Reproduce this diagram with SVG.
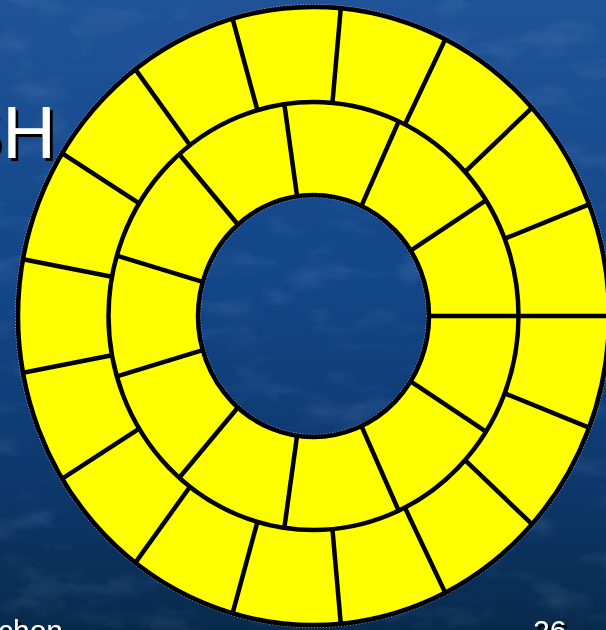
<svg xmlns="http://www.w3.org/2000/svg" width="606" height="630" viewBox="0 0 606 630">
  <defs>
    <linearGradient id="bg" x1="0" y1="0" x2="0" y2="1">
      <stop offset="0" stop-color="#1f5297"/>
      <stop offset="0.45" stop-color="#134688"/>
      <stop offset="0.8" stop-color="#0c3668"/>
      <stop offset="1" stop-color="#082a4c"/>
    </linearGradient>
    <filter id="tex" x="0" y="0" width="100%" height="100%">
      <feTurbulence type="fractalNoise" baseFrequency="0.015 0.035" numOctaves="4" seed="7" result="n"/>
      <feColorMatrix in="n" type="matrix" values="0 0 0 0 0.5  0 0 0 0 0.65  0 0 0 0 1  0 0 0 1.4 -0.7"/>
    </filter>
    <filter id="shadow" x="-20%" y="-20%" width="140%" height="140%">
      <feDropShadow dx="3" dy="3" stdDeviation="0.3" flood-color="#000000" flood-opacity="1"/>
    </filter>
    <style>
      .ring { fill: #ffff00; stroke: #000000; stroke-width: 4.5; fill-rule: evenodd; }
      .line { fill: none; stroke: #000000; stroke-width: 4.5; }
      .edge { fill: none; stroke: #dfe8f5; stroke-width: 1; stroke-dasharray: 1 2; opacity: 0.8; }
      .title { font-family: "Liberation Sans", Arial, sans-serif; fill: #ffffff; }
    </style>
  </defs>

  <g id="background">
    <rect x="0" y="0" width="606" height="630" fill="url(#bg)"/>
    <rect x="0" y="0" width="606" height="630" filter="url(#tex)" opacity="0.22"/>
  </g>

  <g id="title">
    <text class="title" x="-47" y="158" font-size="74" filter="url(#shadow)">SH</text>
  </g>

  <g id="footer">
    <text class="title" x="-2" y="641" font-size="30" filter="url(#shadow)">chon</text>
    <text class="title" x="533" y="641" font-size="30" filter="url(#shadow)">26</text>
  </g>

  <g id="annulus">
    <ellipse class="edge" cx="313.5" cy="316" rx="298" ry="311.5"/>
    <ellipse class="edge" cx="313.5" cy="316" rx="113" ry="118.5"/>
    <path class="ring" d="M 609 316 A 295.5 309 0 1 0 18 316 A 295.5 309 0 1 0 609 316 Z M 429 316 A 115.5 121 0 1 0 198 316 A 115.5 121 0 1 0 429 316 Z"/>
    <ellipse id="middle-circle" class="line" cx="313.5" cy="316" rx="205" ry="214"/>
  </g>

  <g id="connectors">
    <g id="outer-spokes">
      <line class="line" x1="518.5" y1="316" x2="609" y2="316"/>
      <line class="line" x1="504.66" y1="393.31" x2="589.05" y2="427.62"/>
      <line class="line" x1="465.00" y1="460.17" x2="531.88" y2="524.17"/>
      <line class="line" x1="404.87" y1="507.56" x2="445.21" y2="592.60"/>
      <line class="line" x1="332.42" y1="529.09" x2="340.77" y2="623.68"/>
      <line class="line" x1="257.40" y1="521.83" x2="232.63" y2="613.21"/>
      <line class="line" x1="189.96" y1="486.78" x2="135.42" y2="562.59"/>
      <line class="line" x1="139.20" y1="428.66" x2="62.26" y2="478.67"/>
      <line class="line" x1="111.99" y1="355.32" x2="23.03" y2="372.78"/>
      <line class="line" x1="111.99" y1="276.68" x2="23.03" y2="259.22"/>
      <line class="line" x1="139.20" y1="203.34" x2="62.26" y2="153.33"/>
      <line class="line" x1="189.96" y1="145.22" x2="135.42" y2="69.41"/>
      <line class="line" x1="257.40" y1="110.17" x2="232.63" y2="18.79"/>
      <line class="line" x1="332.42" y1="102.91" x2="340.77" y2="8.32"/>
      <line class="line" x1="404.87" y1="124.44" x2="445.21" y2="39.40"/>
      <line class="line" x1="465.00" y1="171.83" x2="531.88" y2="107.83"/>
      <line class="line" x1="504.66" y1="238.69" x2="589.05" y2="204.38"/>
    </g>
    <g id="inner-spokes">
      <line class="line" x1="429" y1="316" x2="518.5" y2="316"/>
      <line class="line" x1="410.66" y1="381.42" x2="485.96" y2="431.70"/>
      <line class="line" x1="361.48" y1="426.07" x2="398.66" y2="510.66"/>
      <line class="line" x1="297.06" y1="435.77" x2="284.33" y2="527.82"/>
      <line class="line" x1="237.86" y1="407.45" x2="179.25" y2="477.73"/>
      <line class="line" x1="202.68" y1="350.09" x2="116.80" y2="376.29"/>
      <line class="line" x1="202.68" y1="281.91" x2="116.80" y2="255.71"/>
      <line class="line" x1="237.86" y1="224.55" x2="179.25" y2="154.27"/>
      <line class="line" x1="297.06" y1="196.23" x2="284.33" y2="104.18"/>
      <line class="line" x1="361.48" y1="205.93" x2="398.66" y2="121.34"/>
      <line class="line" x1="410.66" y1="250.58" x2="485.96" y2="200.30"/>
    </g>
  </g>
</svg>
